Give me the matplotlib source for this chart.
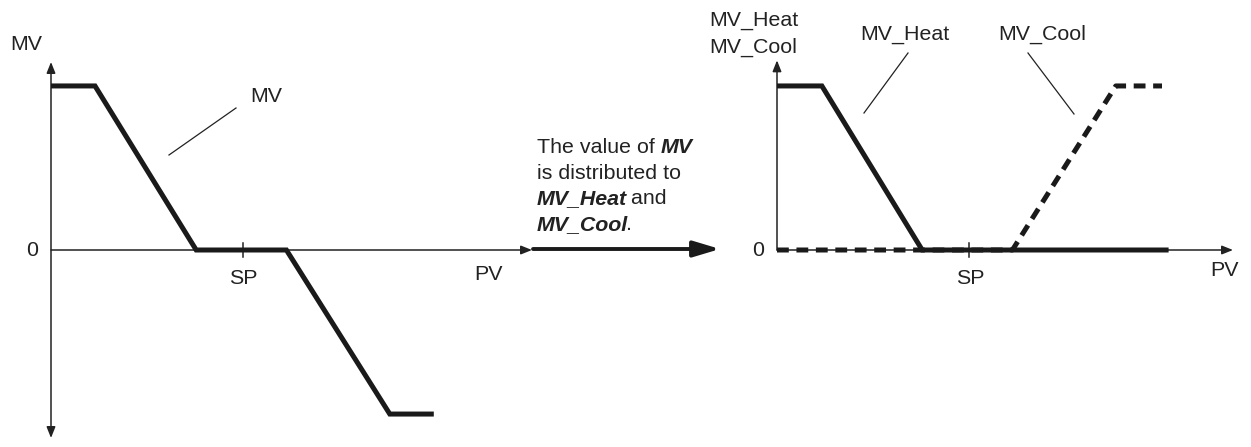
import matplotlib
matplotlib.use("Agg")
import matplotlib.pyplot as plt

plt.rcParams['font.family'] = ['Liberation Sans', 'DejaVu Sans']
plt.rcParams['font.size'] = 15.4
plt.rcParams['lines.scale_dashes'] = False

# PV / MV break points (1 = full output, SP between the dead band edges)
pv_mv = [0, 1, 3.3, 5.35, 7.7, 8.7]
mv = [1, 1, 0, 0, -1, -1]

pv_heat = [0, 1.02, 3.3, 8.9]
mv_heat = [1, 1, 0, 0]

pv_cool = [0, 5.35, 7.7, 8.75]
mv_cool = [0, 0, 1, 1]

sp = 4.36

W, H = 1251, 447
fig = plt.figure(figsize=(W / 100, H / 100), dpi=100)

ylo, yhi = -1.146, 1.146
bottom = 9 / H
height = 376 / H

ax1 = fig.add_axes([51 / W, bottom, 481 / W, height])
ax2 = fig.add_axes([777 / W, bottom, 456 / W, height])
ov = fig.add_axes([0, 0, 1, 1])
ov.set_xlim(0, W)
ov.set_ylim(H, 0)
ov.axis('off')

small_head = dict(color='#222222', lw=1.1, mutation_scale=12, shrinkA=0, shrinkB=0)

for ax, xmax in ((ax1, 481 / 44), (ax2, 456 / 44)):
    ax.set_xlim(0, xmax)
    ax.set_ylim(ylo, yhi)
    ax.axis('off')
    # x axis with arrow
    ax.annotate('', xy=(xmax, 0), xytext=(0, 0), annotation_clip=False,
                arrowprops=dict(arrowstyle='-|>,head_length=0.55,head_width=0.22', **small_head))
    # SP tick
    ax.plot([sp, sp], [-0.04, 0.04], color='#222222', lw=1.1)

# left y axis: arrows both ways
ax1.annotate('', xy=(0, yhi), xytext=(0, ylo), annotation_clip=False,
             arrowprops=dict(arrowstyle='<|-|>,head_length=0.55,head_width=0.22', **small_head))
# right y axis: upward only
ax2.annotate('', xy=(0, yhi + 0.01), xytext=(0, 0), annotation_clip=False,
             arrowprops=dict(arrowstyle='-|>,head_length=0.55,head_width=0.22', **small_head))

ax1.plot(pv_mv, mv, color='#1a1a1a', lw=3.6, solid_joinstyle='miter',
         solid_capstyle='butt', clip_on=False, zorder=3)
ax2.plot(pv_cool, mv_cool, color='#1a1a1a', lw=3.6, linestyle=(0, (8.5, 5.5)),
         dash_capstyle='butt', clip_on=False, zorder=3)
ax2.plot(pv_heat, mv_heat, color='#1a1a1a', lw=3.6, solid_joinstyle='miter',
         solid_capstyle='butt', clip_on=False, zorder=4)

txt = '#222222'
# left diagram labels
ov.text(26, 45, 'MV', ha='center', va='center', color=txt)
ov.text(32, 251, '0', ha='center', va='center', color=txt)
ov.text(243, 279, 'SP', ha='center', va='center', color=txt)
ov.text(488, 274, 'PV', ha='center', va='center', color=txt)
ov.plot([169, 236], [155, 108], color=txt, lw=0.9)
ov.text(266, 96, 'MV', ha='center', va='center', color=txt)

# right diagram labels
ov.text(709, 26, 'MV_Heat', ha='left', va='baseline', color=txt)
ov.text(709, 53, 'MV_Cool', ha='left', va='baseline', color=txt)
ov.text(758, 251, '0', ha='center', va='center', color=txt)
ov.text(970, 279, 'SP', ha='center', va='center', color=txt)
ov.text(1224, 271, 'PV', ha='center', va='center', color=txt)
ov.plot([908, 864], [53, 113], color=txt, lw=0.9)
ov.text(905, 34, 'MV_Heat', ha='center', va='center', color=txt)
ov.plot([1028, 1074], [53, 114], color=txt, lw=0.9)
ov.text(1042, 34, 'MV_Cool', ha='center', va='center', color=txt)

# explanation between the two diagrams
bi = dict(fontweight='bold', style='italic')
rows = [[('The value of ', {}), ('MV', bi)],
        [('is distributed to', {})],
        [('MV_Heat', bi), (' and', {})],
        [('MV_Cool', bi), ('.', {})]]
for i, row in enumerate(rows):
    y = 153 + i * 25.7
    prev = None
    prev_italic = False
    for s, kw in row:
        opts = dict(color=txt)
        opts.update(kw)
        if prev is None:
            prev = ov.text(537, y, s, ha='left', va='baseline', **opts)
        else:
            # italic text leaves a little extra room on its right edge
            dx = -1.5 if prev_italic else 0
            prev = ov.annotate(s, xy=(1, 0), xycoords=prev, xytext=(dx, 0),
                               textcoords='offset points', ha='left', va='bottom', **opts)
        prev_italic = bool(kw)

ov.annotate('', xy=(720, 249), xytext=(533, 249),
            arrowprops=dict(arrowstyle='-|>,head_length=0.8,head_width=0.24',
                            color='#1a1a1a', lw=2.8, mutation_scale=20,
                            shrinkA=0, shrinkB=0))

fig.savefig('out.png', dpi=100)
